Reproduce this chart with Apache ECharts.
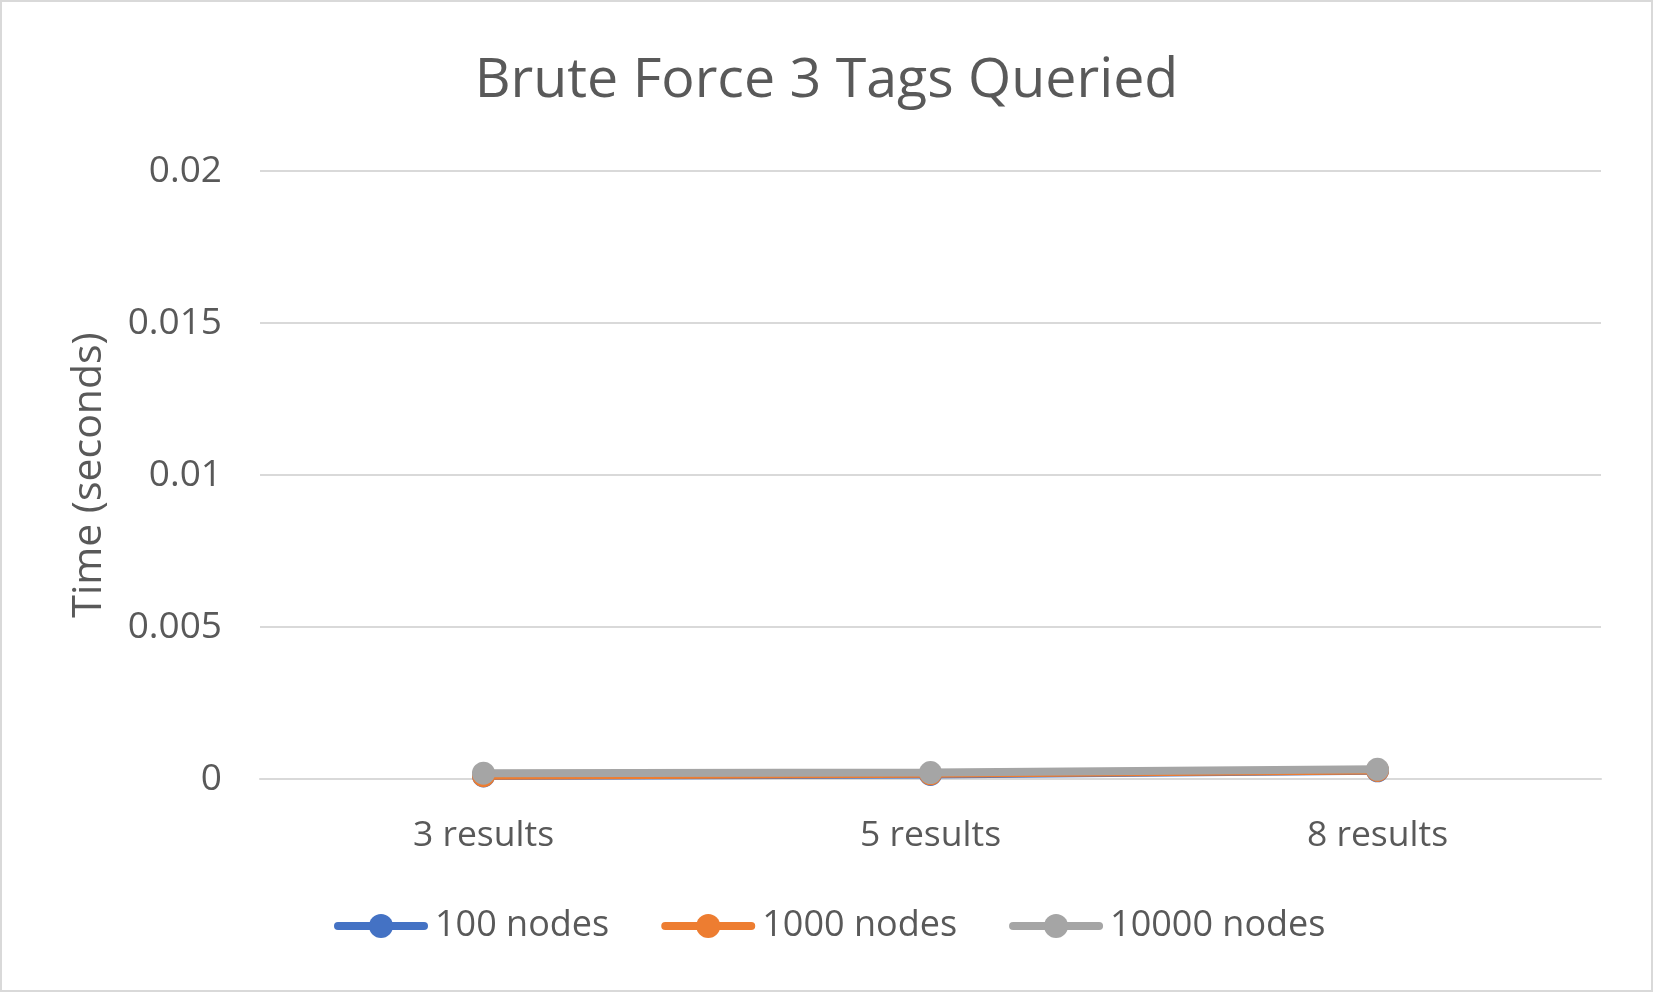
<!DOCTYPE html>
<html><head><meta charset="utf-8">
<script src="https://cdn.jsdelivr.net/npm/echarts@6/dist/echarts.min.js"></script>
<style>
html,body{margin:0;padding:0;background:#fff;}
#c{width:1653px;height:992px;box-sizing:border-box;border:2px solid #d9d9d9;}
</style></head>
<body><div id="c"></div>
<script>
const categories = ['3 results', '5 results', '8 results'];
const seriesNames = ['100 nodes', '1000 nodes', '10000 nodes'];
const nodes100 = [0.0001, 0.00015, 0.00027];
const nodes1000 = [0.00011, 0.00017, 0.00028];
const nodes10000 = [0.00019, 0.00021, 0.00032];
const yTicks = [0, 0.005, 0.01, 0.015, 0.02];
const colors = ['#4472C4', '#ED7D31', '#A5A5A5'];
const values = [nodes100, nodes1000, nodes10000];

const chart = echarts.init(document.getElementById('c'), null, {renderer: 'canvas'});
const font = '"Open Sans", sans-serif';
chart.setOption({
  animation: false,
  textStyle: {fontFamily: font},
  title: {
    text: 'Brute Force 3 Tags Queried',
    left: 'center', top: 46,
    textStyle: {fontFamily: font, fontSize: 55.5, fontWeight: 'normal', color: '#595959'}
  },
  grid: {left: 258, right: 50, top: 169, bottom: 211},
  legend: {
    data: seriesNames,
    left: 327, top: 901,
    itemWidth: 86, itemHeight: 30, itemGap: 52,
    lineStyle: {width: 8, cap: 'round'},
    textStyle: {fontFamily: font, fontSize: 36, color: '#595959', padding: [0, 0, 0, 6]}
  },
  xAxis: {
    type: 'category', data: categories, boundaryGap: true,
    axisLine: {show: true, lineStyle: {color: '#d9d9d9', width: 2}},
    axisTick: {show: false},
    axisLabel: {fontFamily: font, fontSize: 35.5, color: '#595959', margin: 39}
  },
  yAxis: {
    type: 'value', min: yTicks[0], max: yTicks[yTicks.length - 1], interval: 0.005,
    name: 'Time (seconds)', nameLocation: 'middle', nameGap: 150,
    nameTextStyle: {fontFamily: font, fontSize: 41, color: '#595959'},
    axisLine: {show: false}, axisTick: {show: false},
    axisLabel: {fontFamily: font, fontSize: 37, color: '#595959', margin: 38},
    splitLine: {lineStyle: {color: '#d9d9d9', width: 2}}
  },
  series: seriesNames.map((n, i) => ({
    name: n, type: 'line', data: values[i],
    symbol: 'circle', symbolSize: 23,
    lineStyle: {color: colors[i], width: 8},
    itemStyle: {color: colors[i]},
    z: 2 + i
  }))
});
</script></body></html>
